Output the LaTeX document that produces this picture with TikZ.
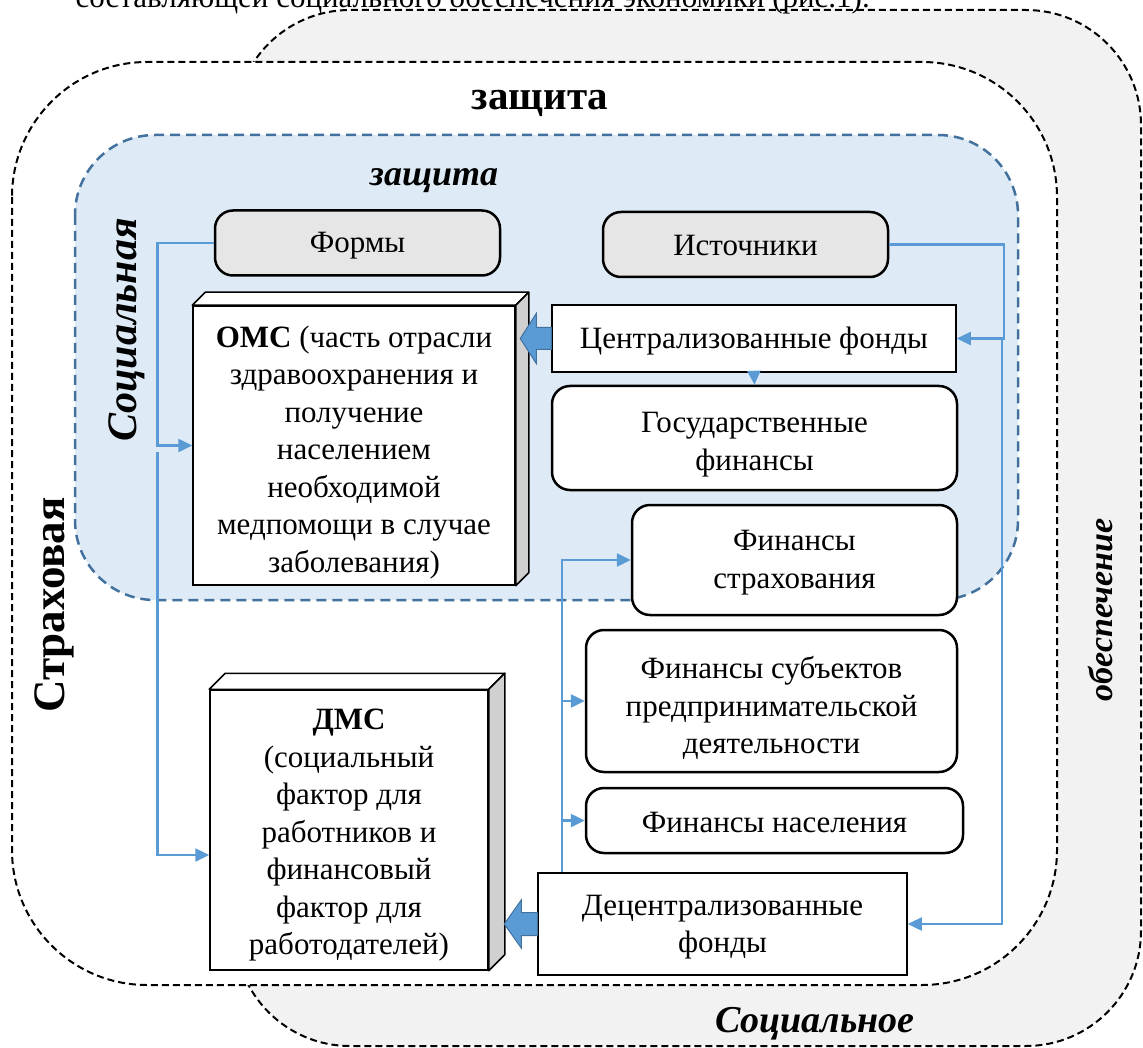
\documentclass[tikz,border=0pt]{standalone}
\usepackage{fontspec}
\setmainfont{Liberation Serif}
\usetikzlibrary{arrows.meta,calc}
\definecolor{conn}{HTML}{5B9BD5}
\definecolor{connd}{HTML}{41719C}
\definecolor{bluefill}{HTML}{DEEBF7}
\definecolor{backgray}{HTML}{F2F2F2}
\definecolor{boxgray}{HTML}{E7E6E6}
\definecolor{sidegray}{HTML}{D0D0D0}
\begin{document}
\begin{tikzpicture}[x=1pt,y=-1pt,
 body/.style={font=\fontsize{31}{37.5}\selectfont, align=center, inner sep=0pt},
 rbox/.style={draw, line width=2.5pt, rounded corners=18pt, fill=white, inner sep=0pt},
 sbox/.style={draw, line width=1.5pt, fill=white, inner sep=0pt},
 gbox/.style={rbox, fill=boxgray},
 cube/.style={draw, line width=1.5pt, fill=white, inner sep=0pt},
 cubeside/.style={draw, line width=1.5pt, fill=sidegray, line join=round},
 cubetop/.style={draw, line width=1.5pt, fill=white, line join=round},
 link/.style={draw=conn, line width=2.5pt, -{Triangle[length=14pt,width=13pt]}},
 blockarr/.style={fill=conn, draw=connd, line width=1pt},
 dashblack/.style={draw=black, line width=2pt, dash pattern=on 7pt off 4pt},
 lbl/.style={inner sep=0pt},
]
\useasboundingbox (0,0) rectangle (1143,1048);

% background shapes
\draw[dashblack, fill=backgray, rounded corners=115pt] (235,10) rectangle (1141,1046);
\draw[dashblack, fill=white, rounded corners=135pt] (12,62) rectangle (1057,985);
\draw[draw=connd, line width=2.5pt, dash pattern=on 10pt off 6pt, fill=bluefill, rounded corners=80pt] (75,135) rectangle (1018,600);

% labels
\node[lbl, font=\fontsize{41}{41}\selectfont\bfseries] (t1) at (540,103) {защита};
\node[lbl, font=\fontsize{36}{36}\selectfont\bfseries\itshape] (t2) at (434,181) {защита};
\node[lbl, rotate=90, font=\fontsize{42}{42}\selectfont\bfseries\itshape] (t3) at (127,330) {Социальная};
\node[lbl, rotate=90, font=\fontsize{45}{45}\selectfont\bfseries] (t4) at (54,605) {Страховая};
\node[lbl, rotate=90, font=\fontsize{34}{34}\selectfont\bfseries\itshape] (t5) at (1101,610) {обеспечение};
\node[lbl, font=\fontsize{38}{38}\selectfont\bfseries\itshape] (t6) at (815,1024) {Социальное};

% boxes
\node[gbox, minimum width=285pt, minimum height=65pt] (forms) at (357.5,243) {};
\node[body] (formsT) at ([yshift=-3pt]forms.center) {Формы};
\node[gbox, minimum width=285pt, minimum height=65pt] (src) at (745.5,244.5) {};
\node[body] (srcT) at ([yshift=-1.5pt]src.center) {Источники};

\node[cube, minimum width=322pt, minimum height=279pt] (oms) at (354,445.5) {};
\draw[cubetop] (oms.north west) -- ([shift={(13pt,13pt)}]oms.north west) -- ([shift={(13pt,13pt)}]oms.north east) -- (oms.north east) -- cycle;
\draw[cubeside] (oms.north east) -- ([shift={(13pt,13pt)}]oms.north east) -- ([shift={(13pt,13pt)}]oms.south east) -- (oms.south east) -- cycle;
\node[body] (omsT) at ([yshift=-7pt]oms.center)
 {\textbf{ОМС} (часть отрасли\\здравоохранения и\\получение\\населением\\необходимой\\медпомощи в случае\\заболевания)};

\node[cube, minimum width=278pt, minimum height=280pt] (dms) at (349,830) {};
\draw[cubetop] (dms.north west) -- ([shift={(16pt,16pt)}]dms.north west) -- ([shift={(16pt,16pt)}]dms.north east) -- (dms.north east) -- cycle;
\draw[cubeside] (dms.north east) -- ([shift={(16pt,16pt)}]dms.north east) -- ([shift={(16pt,16pt)}]dms.south east) -- (dms.south east) -- cycle;
\node[body] (dmsT) at ([yshift=-5.5pt]dms.center)
 {\textbf{ДМС}\\(социальный\\фактор для\\работников и\\финансовый\\фактор для\\работодателей)};

\node[sbox, minimum width=404pt, minimum height=67pt] (cent) at (754,338.5) {};
\node[body] (centT) at ([yshift=-3pt]cent.center) {Централизованные фонды};
\node[rbox, minimum width=405pt, minimum height=104pt] (gos) at (754.5,438) {};
\node[body] (gosT) at ([yshift=-6.5pt]gos.center) {Государственные\\финансы};
\node[rbox, minimum width=325pt, minimum height=110pt] (fstr) at (794.5,560) {};
\node[body] (fstrT) at ([yshift=-2.5pt]fstr.center) {Финансы\\страхования};
\node[rbox, minimum width=371pt, minimum height=142pt] (fsub) at (771.5,701) {};
\node[body] (fsubT) at ([yshift=-7pt]fsub.center) {Финансы субъектов\\предпринимательской\\деятельности};
\node[rbox, minimum width=377pt, minimum height=65pt] (fnas) at (774.5,820.5) {};
\node[body] (fnasT) at ([yshift=-2pt]fnas.center) {Финансы населения};
\node[sbox, minimum width=369pt, minimum height=102pt] (dec) at (722.5,924) {};
\node[body] (decT) at ([yshift=-3pt]dec.center) {Децентрализованные\\фонды};

% connectors
\draw[link] (forms.west) -| ([xshift=-35pt]oms.west) -- (oms.west);
\draw[link] ([xshift=-35pt,yshift=-6.5pt]oms.west) |- ([yshift=-25pt]dms.west);
\draw[link] (src.east) -| ([xshift=47pt]cent.east) -- (cent.east);
\draw[link] ([xshift=45pt]cent.east) |- (dec.east);
\draw[link] (cent.south) -- (gos.north);
\coordinate (trunk) at ([xshift=-160.5pt]dec.north);
\draw[link] (trunk) |- (fstr.west);
\draw[link] (trunk |- fsub.west) -- (fsub.west);
\draw[link] (trunk |- fnas.west) -- (fnas.west);

% block arrows
\draw[blockarr] ([yshift=11pt]cent.west) -- ++(-15,0) -- ++(0,-14) -- ++(-16,25) -- ++(16,25) -- ++(0,-14) -- ++(15,0) -- cycle;
\draw[blockarr] ([yshift=11.5pt]dec.west) -- ++(-16,0) -- ++(0,-12.5) -- ++(-17,24) -- ++(17,24) -- ++(0,-12.5) -- ++(16,0) -- cycle;

% top cut-off text
\node[anchor=base east, inner sep=0pt, font=\fontsize{31}{37}\selectfont] (toptext) at (870,8) {составляющей социального обеспечения экономики (рис.1).};
\end{tikzpicture}
\end{document}
